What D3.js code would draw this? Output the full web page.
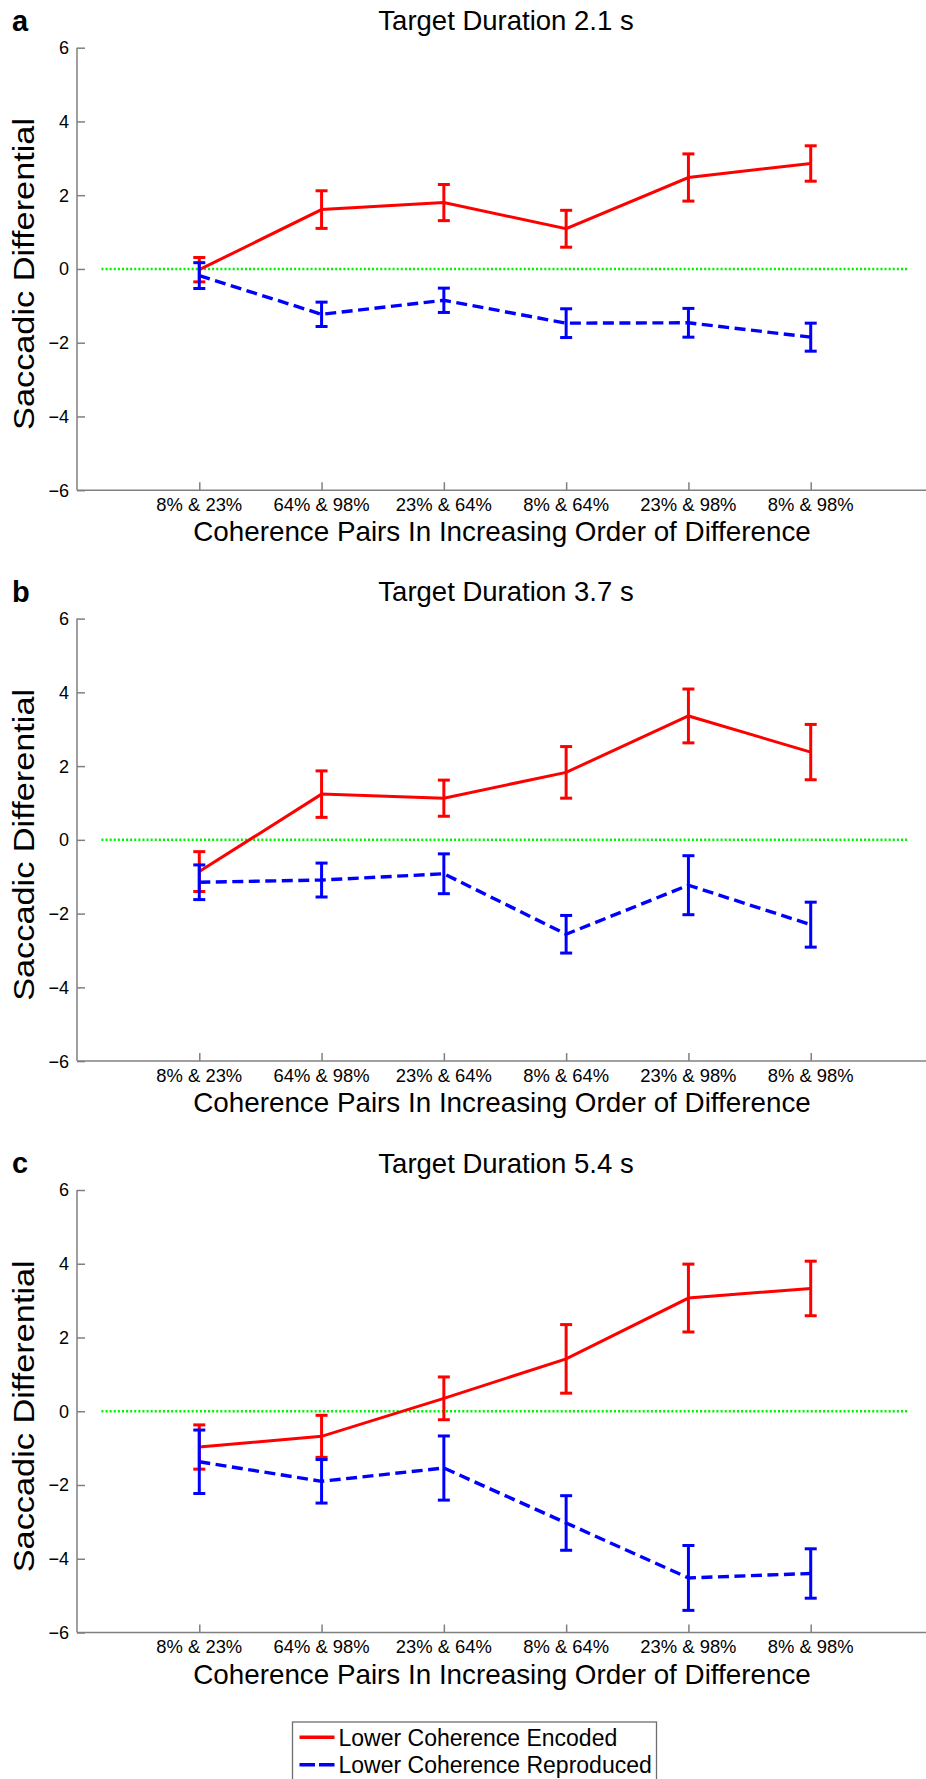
<!DOCTYPE html>
<html>
<head>
<meta charset="utf-8">
<script src="https://cdn.jsdelivr.net/npm/d3@7"></script>
<style>
  body { margin: 0; background: #fff; }
  svg { display: block; font-family: "Liberation Sans", Arial, Helvetica, sans-serif; }
</style>
</head>
<body>
<div id="chart"></div>
<script>
// coherence pairs, in increasing order of difference
const pairs = ["8% & 23%", "64% & 98%", "23% & 64%", "8% & 64%", "23% & 98%", "8% & 98%"];
const yTicks = [-6, -4, -2, 0, 2, 4, 6];

const panelLetters = ["a", "b", "c"];
const panelTitles = ["Target Duration 2.1 s", "Target Duration 3.7 s", "Target Duration 5.4 s"];

// lower coherence encoded (red)
const encoded21 = [-0.02, 1.61, 1.8, 1.09, 2.48, 2.86];
const encoded21Err = [0.33, 0.51, 0.49, 0.5, 0.64, 0.48];
const encoded37 = [-0.86, 1.24, 1.13, 1.83, 3.36, 2.38];
const encoded37Err = [0.54, 0.63, 0.49, 0.7, 0.73, 0.75];
const encoded54 = [-0.97, -0.68, 0.35, 1.42, 3.07, 3.33];
const encoded54Err = [0.6, 0.57, 0.58, 0.93, 0.92, 0.74];

// lower coherence reproduced (blue)
const reproduced21 = [-0.18, -1.23, -0.85, -1.47, -1.46, -1.85];
const reproduced21Err = [0.35, 0.33, 0.33, 0.39, 0.39, 0.38];
const reproduced37 = [-1.15, -1.09, -0.92, -2.56, -1.23, -2.3];
const reproduced37Err = [0.47, 0.46, 0.54, 0.51, 0.8, 0.61];
const reproduced54 = [-1.37, -1.9, -1.54, -3.03, -4.52, -4.4];
const reproduced54Err = [0.86, 0.59, 0.87, 0.74, 0.88, 0.67];

const legendLabels = ["Lower Coherence Encoded", "Lower Coherence Reproduced"];

const width = 926,
  height = 1779;
const red = "#ff0000",
  blue = "#0000ff",
  green = "#00f000",
  axisColor = "#808080";

const panelTops = [47.7, 618.6, 1190];
const plotH = 442.5;

const svg = d3
  .select("#chart")
  .append("svg")
  .attr("width", width)
  .attr("height", height);

const x = d3.scaleLinear().domain([0, 7]).range([77, 933]);

function drawSeries(g, y, means, errs, color, dash) {
  let pts = means.map((m, i) => ({ i: i + 1, m: m, e: errs[i] }));

  g.append("path")
    .datum(pts)
    .attr("fill", "none")
    .attr("stroke", color)
    .attr("stroke-width", dash ? 3.4 : 3)
    .attr("stroke-dasharray", dash ? "11,5.5" : null)
    .attr("d", d3.line().x((d) => x(d.i)).y((d) => y(d.m)));

  let bars = g.append("g").selectAll("g").data(pts).enter().append("g");
  bars
    .append("line")
    .attr("x1", (d) => x(d.i))
    .attr("x2", (d) => x(d.i))
    .attr("y1", (d) => y(d.m + d.e))
    .attr("y2", (d) => y(d.m - d.e))
    .attr("stroke", color)
    .attr("stroke-width", 3);
  [1, -1].forEach((s) => {
    bars
      .append("line")
      .attr("x1", (d) => x(d.i) - 6)
      .attr("x2", (d) => x(d.i) + 6)
      .attr("y1", (d) => y(d.m + s * d.e))
      .attr("y2", (d) => y(d.m + s * d.e))
      .attr("stroke", color)
      .attr("stroke-width", 3);
  });
}

function drawPanel(p, enc, encErr, rep, repErr) {
  let top = panelTops[p];
  let y = d3.scaleLinear().domain([-6, 6]).range([top + plotH, top]);
  let g = svg.append("g").attr("class", "panel");

  // y axis
  let yAxis = g
    .append("g")
    .attr("transform", `translate(${x(0)},0)`)
    .call(d3.axisRight(y).tickValues(yTicks).tickSize(8).tickFormat(""));
  yAxis.select(".domain").attr("stroke", axisColor).attr("stroke-width", 1.5).attr("d", `M0,${y(6)}V${y(-6)}`);
  yAxis.selectAll(".tick line").attr("stroke", axisColor).attr("stroke-width", 1.5);

  g.append("g")
    .selectAll("text")
    .data(yTicks)
    .enter()
    .append("text")
    .attr("x", 69)
    .attr("y", (d) => y(d))
    .attr("dy", "0.36em")
    .attr("text-anchor", "end")
    .attr("font-size", 18)
    .text((d) => (d < 0 ? "\u2212" + Math.abs(d) : d));

  // x axis
  let xAxis = g
    .append("g")
    .attr("transform", `translate(0,${y(-6)})`)
    .call(d3.axisTop(x).tickValues([1, 2, 3, 4, 5, 6]).tickSize(8).tickFormat(""));
  xAxis.select(".domain").attr("stroke", axisColor).attr("stroke-width", 1.5).attr("d", `M${x(0)},0H${x(7)}`);
  xAxis.selectAll(".tick line").attr("stroke", axisColor).attr("stroke-width", 1.5);

  g.append("g")
    .selectAll("text")
    .data(pairs)
    .enter()
    .append("text")
    .attr("x", (d, i) => x(i + 1))
    .attr("y", y(-6) + 20.7)
    .attr("text-anchor", "middle")
    .attr("font-size", 18.4)
    .text((d) => d);

  g.append("text")
    .attr("x", x(3.5) - 3)
    .attr("y", y(-6) + 51)
    .attr("text-anchor", "middle")
    .attr("font-size", 27.8)
    .text("Coherence Pairs In Increasing Order of Difference");

  g.append("text")
    .attr("transform", `translate(34,${y(0) + 5}) rotate(-90)`)
    .attr("text-anchor", "middle")
    .attr("font-size", 30)
    .attr("textLength", 312)
    .attr("lengthAdjust", "spacingAndGlyphs")
    .text("Saccadic Differential");

  g.append("text")
    .attr("x", x(3.5) + 1)
    .attr("y", top - 17.5)
    .attr("text-anchor", "middle")
    .attr("font-size", 27.5)
    .text(panelTitles[p]);

  g.append("text")
    .attr("x", 12)
    .attr("y", top - 17)
    .attr("font-size", 29)
    .attr("font-weight", "bold")
    .text(panelLetters[p]);

  // zero reference
  g.append("line")
    .attr("x1", x(0.2))
    .attr("x2", x(6.8))
    .attr("y1", y(0))
    .attr("y2", y(0))
    .attr("stroke", green)
    .attr("stroke-width", 2.5)
    .attr("stroke-dasharray", "2,2.1");

  drawSeries(g, y, enc, encErr, red, false);
  drawSeries(g, y, rep, repErr, blue, true);
}

drawPanel(0, encoded21, encoded21Err, reproduced21, reproduced21Err);
drawPanel(1, encoded37, encoded37Err, reproduced37, reproduced37Err);
drawPanel(2, encoded54, encoded54Err, reproduced54, reproduced54Err);

// legend
let legend = svg.append("g").attr("class", "legend");
legend
  .append("rect")
  .attr("x", 292.5)
  .attr("y", 1722)
  .attr("width", 364)
  .attr("height", 70)
  .attr("fill", "#fff")
  .attr("stroke", "#6e6e6e")
  .attr("stroke-width", 1.3);

legendLabels.forEach((label, i) => {
  let ly = 1737.3 + i * 27.4;
  legend
    .append("line")
    .attr("x1", 299.5)
    .attr("x2", 334.5)
    .attr("y1", ly)
    .attr("y2", ly)
    .attr("stroke", i === 0 ? red : blue)
    .attr("stroke-width", 3.4)
    .attr("stroke-dasharray", i === 0 ? null : "15.5,4");
  legend
    .append("text")
    .attr("x", 338.5)
    .attr("y", ly + 8.4)
    .attr("font-size", 23)
    .text(label);
});
</script>
</body>
</html>
